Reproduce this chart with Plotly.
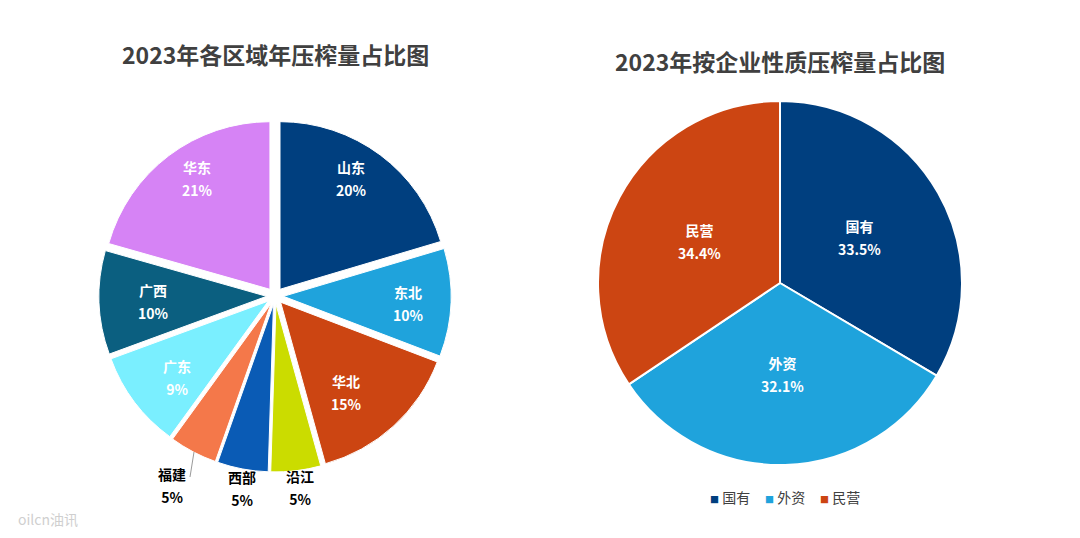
import plotly.graph_objects as go

W, H = 1080, 538
FONT = "Noto Sans CJK SC"
OFFSET = 8  # page body margin

region_labels = ['山东', '东北', '华北', '沿江', '西部', '福建', '广东', '广西', '华东']
# the labels show them rounded
region_values = [20.4, 10.4, 14.9, 4.8, 4.9, 4.6, 9.4, 10.0, 20.6]
region_colors = ['#003f7f', '#1fa3dc', '#cc4512', '#cbdc00', '#0a5bb5', '#f4784a', '#7aefff', '#0b5f80', '#d683f5']
region_text_colors = ['white', 'white', 'white', 'black', 'black', 'black', 'white', 'white', 'white']
region_text_xy = [(351, 179), (408, 303), (346, 392), (300, 487), (242, 488), (172, 485), (177, 377), (153, 301), (197, 179)]

owner_labels = ['国有', '外资', '民营']
owner_values = [33.5, 32.1, 34.4]
owner_colors = ['#003f7f', '#1fa3dc', '#cc4512']
owner_text_xy = [(859, 238), (782, 374), (699, 241)]
legend_x = [708, 763, 818]


def px(x):
    return (x - OFFSET) / W


def py(y):
    return 1 - (y - OFFSET) / H


def dom(x0, x1, y0, y1):
    return dict(x=[px(x0), px(x1)], y=[py(y1), py(y0)])


def note(x, y, text, font, xanchor='center'):
    fig.add_annotation(x=px(x), y=py(y), xref='paper', yref='paper', showarrow=False,
                       xanchor=xanchor, yanchor='middle', text=text, font=font)


def slice_label(label, value, xy, color):
    # outer size sets the line spacing, the span sets the glyph size
    note(xy[0], xy[1],
         f'<span style="font-size:14px"><b>{label}</b></span><br>'
         f'<span style="font-size:14px"><b>{value}%</b></span>',
         dict(family=FONT, size=18, color=color))


fig = go.Figure()

fig.add_trace(go.Pie(
    labels=region_labels,
    values=region_values,
    sort=False,
    direction='clockwise',
    rotation=0,
    pull=0.05,
    domain=dom(99, 451, 120, 472),
    marker=dict(colors=region_colors, line=dict(color='white', width=1)),
    textinfo='none',
    showlegend=False,
    hoverinfo='label+percent',
))

fig.add_trace(go.Pie(
    labels=owner_labels,
    values=owner_values,
    sort=False,
    direction='clockwise',
    rotation=0,
    domain=dom(598, 962, 101, 465),
    marker=dict(colors=owner_colors, line=dict(color='white', width=2)),
    textinfo='none',
    showlegend=False,
    hoverinfo='label+percent',
))

for lab, val, xy, col in zip(region_labels, region_values, region_text_xy, region_text_colors):
    slice_label(lab, f'{val:.0f}', xy, col)
for lab, val, xy in zip(owner_labels, owner_values, owner_text_xy):
    slice_label(lab, val, xy, 'white')

# legend of the right pie
for lab, col, x in zip(owner_labels, owner_colors, legend_x):
    note(x, 497, f'<span style="color:{col};font-size:9px">■</span> {lab}',
         dict(family=FONT, size=14, color='#404040'), xanchor='left')

# leader line for 福建
fig.add_shape(type='line', xref='paper', yref='paper', x0=px(194), y0=py(452), x1=px(190), y1=py(477),
              line=dict(color='#9a9a9a', width=1))

note(275, 54, '<b>2023年各区域年压榨量占比图</b>', dict(family=FONT, size=23, color='#404040'))
note(780, 61, '<b>2023年按企业性质压榨量占比图</b>', dict(family=FONT, size=23, color='#404040'))
note(16, 519, 'oilcn油讯', dict(family=FONT, size=14, color='#cfcfcf'), xanchor='left')

fig.update_layout(
    width=W, height=H,
    margin=dict(l=0, r=0, t=0, b=0),
    paper_bgcolor='white',
)

fig.write_html("out.html")
